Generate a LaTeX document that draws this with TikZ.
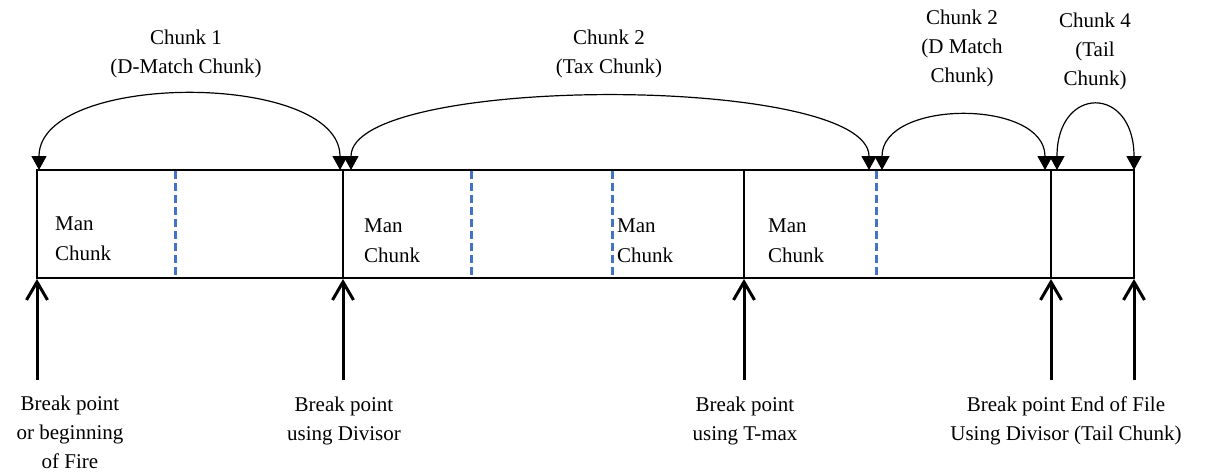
\documentclass[tikz,border=0pt]{standalone}
\usepackage{fontspec}
\setmainfont{Liberation Serif}
\newfontfamily\tnr{Liberation Serif}
\usetikzlibrary{arrows.meta}
\definecolor{divblue}{HTML}{4472C4}
\begin{document}
\begin{tikzpicture}[x=1pt,y=-1pt,
  lbl/.style={font=\tnr\fontsize{21}{29}\selectfont, align=center, inner sep=0pt},
  man/.style={font=\tnr\fontsize{21}{30}\selectfont, align=left, inner sep=0pt, anchor=north west},
  frame/.style={line width=1.6pt},
  tailbox/.style={line width=2.4pt},
  divider/.style={draw=divblue, line width=3pt, dash pattern=on 8pt off 4pt},
  arcline/.style={line width=1.2pt, {Triangle[length=14pt,width=15pt]}-{Triangle[length=14pt,width=15pt]}},
  uparrow/.style={line width=3pt, -{Straight Barb[length=18pt,width=21pt]}}
]
\useasboundingbox (0,0) rectangle (1208,472);

% frame
\coordinate (tl) at (37,170);
\coordinate (br) at (1134,278);
\draw[frame] (tl) rectangle (br);
\draw[tailbox] (1051,170) rectangle (1134,278);
\draw[frame] (343,170) -- (343,278);
\draw[frame] (744,170) -- (744,278);

% dashed dividers
\foreach \x in {175,471,612,876} \draw[divider] (\x,171) -- (\x,278);

% Man Chunk labels
\node[man] (m1) at (55,217) {Man\\Chunk};
\node[man] (m2) at (364,219) {Man\\Chunk};
\node[man] (m3) at (617,219) {Man\\Chunk};
\node[man] (m4) at (768,219) {Man\\Chunk};

% arcs
\coordinate (a1s) at (39,170);  \coordinate (a1e) at (340,170);
\coordinate (a2s) at (351,170); \coordinate (a2e) at (869,170);
\coordinate (a3s) at (882,170); \coordinate (a3e) at (1045,170);
\coordinate (a4s) at (1057,170);\coordinate (a4e) at (1134,170);
\draw[arcline] (a1s) .. controls (39,71) and (340,71) .. (a1e);
\draw[arcline] (a2s) .. controls (351,74) and (869,74) .. (a2e);
\draw[arcline] (a3s) .. controls (882,99) and (1045,99) .. (a3e);
\draw[arcline] (a4s) .. controls (1057,85) and (1134,85) .. (a4e);

% top labels
\node[lbl] (c1) at (186,54) {Chunk 1\\(D-Match Chunk)};
\node[lbl] (c2) at (609,54) {Chunk 2\\(Tax Chunk)};
\node[lbl] (c3) at (962,48) {Chunk 2\\(D Match\\Chunk)};
\node[lbl] (c4) at (1095,51) {Chunk 4\\(Tail\\Chunk)};

% bottom arrows
\foreach \x/\n in {37/p0,343/p1,744/p2,1051/p3,1134/p4}{
  \coordinate (\n b) at (\x,380);
  \coordinate (\n t) at (\x,279);
  \draw[uparrow] (\n b) -- (\n t);
}

% bottom labels
\node[lbl] (l0) at (70,432) {Break point\\or beginning\\of Fire};
\node[lbl] (l1) at (344,421) {Break point\\using Divisor};
\node[lbl] (l2) at (745,421) {Break point\\using T-max};
\node[lbl] (l3) at (1066,421) {Break point End of File\\Using Divisor (Tail Chunk)};
\end{tikzpicture}
\end{document}
